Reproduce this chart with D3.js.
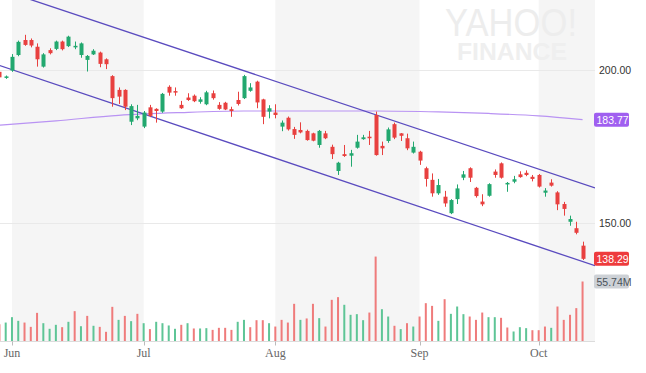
<!DOCTYPE html>
<html>
<head>
<meta charset="utf-8">
<script src="https://cdn.jsdelivr.net/npm/d3@7"></script>
<style>
  body { margin: 0; background: #fff; }
  svg { display: block; }
</style>
</head>
<body>
<svg id="chart" width="646" height="373"></svg>
<script>
// --- Data
const dates = [
  "2018-05-30","2018-05-31",
  "2018-06-01","2018-06-04","2018-06-05","2018-06-06","2018-06-07","2018-06-08","2018-06-11","2018-06-12","2018-06-13","2018-06-14","2018-06-15",
  "2018-06-18","2018-06-19","2018-06-20","2018-06-21","2018-06-22","2018-06-25","2018-06-26","2018-06-27","2018-06-28","2018-06-29",
  "2018-07-02","2018-07-03","2018-07-05","2018-07-06","2018-07-09","2018-07-10","2018-07-11","2018-07-12","2018-07-13","2018-07-16","2018-07-17",
  "2018-07-18","2018-07-19","2018-07-20","2018-07-23","2018-07-24","2018-07-25","2018-07-26","2018-07-27","2018-07-30","2018-07-31",
  "2018-08-01","2018-08-02","2018-08-03","2018-08-06","2018-08-07","2018-08-08","2018-08-09","2018-08-10","2018-08-13","2018-08-14","2018-08-15",
  "2018-08-16","2018-08-17","2018-08-20","2018-08-21","2018-08-22","2018-08-23","2018-08-24","2018-08-27","2018-08-28","2018-08-29","2018-08-30","2018-08-31",
  "2018-09-04","2018-09-05","2018-09-06","2018-09-07","2018-09-10","2018-09-11","2018-09-12","2018-09-13","2018-09-14","2018-09-17","2018-09-18",
  "2018-09-19","2018-09-20","2018-09-21","2018-09-24","2018-09-25","2018-09-26","2018-09-27","2018-09-28",
  "2018-10-01","2018-10-02","2018-10-03","2018-10-04","2018-10-05","2018-10-08","2018-10-09","2018-10-10"
];

const open = [
  199.4,197.7,
  199.8,204.9,209.8,209.8,207.6,201.1,206.5,206.9,209.3,207.8,207.4,204.9,203.3,205.1,205.7,203.5,198.0,193.5,193.5,183.1,184.2,
  181.5,187.8,187.3,186.4,194.5,193.1,188.6,191.0,191.6,189.6,188.8,192.4,188.6,189.3,187.2,190.2,190.8,193.2,196.2,190.4,186.4,
  186.1,181.5,184.4,180.7,180.4,180.1,179.3,175.5,179.3,174.9,167.0,172.5,172.0,174.6,177.4,178.2,185.3,175.2,176.8,182.3,179.3,177.7,173.0,
  173.3,167.9,164.1,159.7,158.6,153.2,157.8,164.8,167.9,161.5,157.0,158.9,166.8,169.5,162.6,163.5,165.9,166.4,165.1,
  165.7,159.9,163.2,160.0,156.2,150.4,148.3,142.6
];
const high = [
  199.9,198.2,
  205.2,209.6,211.5,210.3,208.7,205.5,207.1,209.6,209.6,211.2,209.3,209.0,204.9,206.8,206.0,203.8,198.3,194.3,193.7,188.8,188.6,
  186.6,188.6,187.5,192.5,195.0,194.3,189.9,192.4,192.0,191.1,193.2,193.3,189.5,189.6,188.0,192.9,198.4,195.7,196.5,190.6,188.5,
  188.8,183.5,184.8,181.4,182.9,180.5,179.5,180.4,180.1,175.6,170.0,175.5,173.9,178.8,178.8,180.1,186.4,176.6,181.2,182.8,179.4,179.2,176.6,
  173.6,168.4,166.2,164.4,160.5,157.8,162.6,167.0,168.2,161.8,159.4,163.0,167.5,169.8,163.4,165.4,166.9,167.2,165.7,
  166.0,161.4,164.3,160.4,156.9,152.4,150.4,143.9
];
const low = [
  197.4,197.1,
  199.4,204.5,207.9,207.4,201.1,200.8,205.1,206.5,206.4,207.5,206.8,204.0,199.5,204.9,200.9,200.3,188.0,188.9,186.9,182.0,183.6,
  181.0,184.6,182.8,186.0,191.6,191.6,187.3,189.9,189.5,189.0,188.5,190.3,187.0,186.9,184.7,188.4,190.5,192.9,187.5,182.3,184.2,
  184.2,180.0,180.2,177.5,179.3,176.9,176.7,174.6,177.4,170.9,165.7,171.6,168.4,174.3,177.2,175.5,172.0,172.2,176.2,177.4,176.8,173.8,172.7,
  169.0,161.9,158.6,159.2,155.3,152.9,156.2,164.0,163.4,158.3,155.5,158.6,164.8,164.5,160.2,163.0,164.8,165.3,163.6,
  161.6,158.6,161.9,154.2,152.4,149.1,146.3,137.9
];
const close = [
  197.6,197.9,
  204.3,209.2,208.2,208.0,203.5,205.1,205.5,209.3,206.8,210.9,207.9,208.7,204.6,206.3,202.0,201.9,190.8,191.3,188.0,188.2,185.0,
  186.1,185.0,186.6,192.2,192.6,192.7,187.5,190.2,189.8,190.4,192.7,190.8,187.3,187.1,186.6,188.9,198.0,194.3,189.4,184.7,187.5,
  185.3,182.8,180.6,178.8,179.6,177.1,176.9,180.1,177.7,172.5,169.7,171.9,172.8,176.6,178.0,177.7,172.2,174.4,180.6,177.9,178.5,174.4,174.9,
  170.4,164.4,159.7,162.4,156.4,157.5,161.3,165.9,164.8,158.8,156.1,162.7,165.7,164.8,163.1,164.3,165.0,165.7,164.4,
  161.9,160.6,162.2,156.1,154.6,151.3,146.8,138.29
];
// volume, millions
const volume = [
  16.0,17.6,
  22.6,19.2,17.6,13.6,26.6,17.0,11.8,15.5,13.3,18.3,28.2,14.2,23.8,14.6,13.6,9.0,32.2,20.1,23.8,18.9,25.7,
  17.0,11.5,18.3,17.0,14.9,11.8,15.5,17.0,12.1,12.1,12.4,10.8,12.7,12.7,10.8,18.3,20.1,13.3,19.8,19.8,17.0,
  13.9,20.1,17.6,35.0,20.1,21.4,35.0,21.7,13.9,38.7,41.2,34.1,24.8,25.4,19.8,26.9,78.9,30.0,23.2,14.6,11.5,17.0,13.9,
  23.2,35.6,33.1,19.2,39.3,25.7,32.5,25.4,23.2,20.1,26.9,22.6,22.6,22.0,13.0,9.3,13.3,12.4,10.5,
  10.5,13.9,12.7,32.5,20.1,24.8,31.0,55.74
];

// 200-day moving average, sampled
const maDates  = ["2018-05-30","2018-06-12","2018-06-26","2018-07-11","2018-07-25","2018-08-08","2018-08-23","2018-09-07","2018-09-19","2018-10-01","2018-10-10"];
const maValues = [182.0, 183.4, 185.2, 186.1, 186.6, 186.6, 186.6, 186.3, 185.8, 185.0, 183.77];

// trend channel anchors [date, price]
const upperTrend = [["2018-06-06", 223.0], ["2018-10-10", 162.8]];
const lowerTrend = [["2018-05-30", 201.5], ["2018-10-10", 137.4]];

const monthTicks  = ["2018-06-01","2018-07-02","2018-08-01","2018-09-04","2018-10-01"];
const monthLabels = ["Jun","Jul","Aug","Sep","Oct"];
const priceTicks  = [150, 200];

const lastClose = 138.29;
const lastMa = 183.77;
const lastVolume = 55.74;

// --- Setup
const svg = d3.select("#chart");
const plotRight = 595;
const baseY = 341.5;

const x = d3.scaleBand().domain(dates).range([-3.7, 585.7]);
const cx = d => x(d) + x.bandwidth() / 2;
const y = d3.scaleLinear().domain([150, 200]).range([223, 70]);
const yVol = d3.scaleLinear().domain([0, lastVolume]).range([baseY, baseY - 60]);

const upColor = "#22a86f", downColor = "#e8403f";
const upVol = "#5ec596", downVol = "#ef7b7b";

const rows = dates.map((d, i) => ({
  date: d, o: open[i], h: high[i], l: low[i], c: close[i], v: volume[i],
  prev: i ? close[i - 1] : open[i]
}));

svg.append("rect").attr("width", 646).attr("height", 373).attr("fill", "#fff");

svg.append("clipPath").attr("id", "plot")
  .append("rect").attr("x", 0).attr("y", 0).attr("width", plotRight).attr("height", baseY);

const plot = svg.append("g").attr("clip-path", "url(#plot)");

// --- Month shading (every other month)
const bandEdges = monthTicks.map(cx).concat([plotRight]);
plot.selectAll(".band")
  .data(monthTicks.filter((d, i) => i % 2 === 0))
  .enter()
  .append("rect")
  .attr("class", "band")
  .attr("x", d => cx(d))
  .attr("y", 0)
  .attr("width", d => bandEdges[monthTicks.indexOf(d) + 1] - cx(d))
  .attr("height", baseY)
  .attr("fill", "#f5f5f5");

// --- Watermark
svg.append("text")
  .attr("x", 445).attr("y", 36)
  .attr("textLength", 132)
  .attr("lengthAdjust", "spacingAndGlyphs")
  .style("font-family", "Liberation Sans, Arial, sans-serif")
  .style("font-size", "39px")
  .attr("fill", "#ededed")
  .text("YAHOO!");
svg.append("text")
  .attr("x", 457).attr("y", 60)
  .attr("textLength", 110)
  .attr("lengthAdjust", "spacingAndGlyphs")
  .style("font-family", "Liberation Sans, Arial, sans-serif")
  .style("font-size", "23px")
  .style("font-weight", "bold")
  .attr("fill", "#efefef")
  .text("FINANCE");

// --- Gridlines
plot.selectAll(".grid")
  .data(priceTicks)
  .enter()
  .append("line")
  .attr("x1", 0).attr("x2", plotRight)
  .attr("y1", d => Math.round(y(d)) + 0.5)
  .attr("y2", d => Math.round(y(d)) + 0.5)
  .attr("stroke", "#e9e9e9");

svg.append("line")
  .attr("x1", 0).attr("x2", plotRight)
  .attr("y1", baseY).attr("y2", baseY)
  .attr("stroke", "#dcdcdc");

// --- Volume bars
plot.selectAll(".vol")
  .data(rows)
  .enter()
  .append("rect")
  .attr("class", "vol")
  .attr("x", d => cx(d.date) - 1)
  .attr("width", 2)
  .attr("y", d => yVol(d.v))
  .attr("height", d => baseY - yVol(d.v))
  .attr("fill", d => d.c >= d.prev ? upVol : downVol);

// --- Moving average
const maLine = d3.line()
  .x((d, i) => cx(d))
  .y((d, i) => y(maValues[i]))
  .curve(d3.curveMonotoneX);
plot.append("path")
  .attr("d", maLine(maDates))
  .attr("fill", "none")
  .attr("stroke", "#b993f3")
  .attr("stroke-width", 1.2);

// --- Trend channel
function extend(pts) {
  const [x1, y1] = [cx(pts[0][0]), y(pts[0][1])];
  const [x2, y2] = [cx(pts[1][0]), y(pts[1][1])];
  const k = (y2 - y1) / (x2 - x1);
  return [[-5, y1 + (-5 - x1) * k], [plotRight, y1 + (plotRight - x1) * k]];
}
plot.selectAll(".trend")
  .data([upperTrend, lowerTrend])
  .enter()
  .append("path")
  .attr("d", d => d3.line()(extend(d)))
  .attr("fill", "none")
  .attr("stroke", "#5a4bbf")
  .attr("stroke-width", 1.3);

// --- Candles
const candles = plot.selectAll(".candle")
  .data(rows)
  .enter()
  .append("g")
  .attr("class", "candle");

candles.append("line")
  .attr("x1", d => Math.round(cx(d.date)) + 0.5)
  .attr("x2", d => Math.round(cx(d.date)) + 0.5)
  .attr("y1", d => y(d.h))
  .attr("y2", d => y(d.l))
  .attr("stroke", d => d.c >= d.o ? upColor : downColor);

candles.append("rect")
  .attr("x", d => Math.round(cx(d.date)) - 1.5)
  .attr("width", 4)
  .attr("y", d => y(Math.max(d.o, d.c)))
  .attr("height", d => Math.max(1.5, Math.abs(y(d.o) - y(d.c))))
  .attr("fill", d => d.c >= d.o ? upColor : downColor);

// --- X axis
svg.selectAll(".tick")
  .data(monthTicks)
  .enter()
  .append("line")
  .attr("x1", d => Math.round(cx(d)) + 0.5)
  .attr("x2", d => Math.round(cx(d)) + 0.5)
  .attr("y1", baseY).attr("y2", baseY + 4)
  .attr("stroke", "#bbb");

svg.selectAll(".month")
  .data(monthTicks)
  .enter()
  .append("text")
  .attr("x", d => cx(d))
  .attr("y", 357)
  .attr("text-anchor", "middle")
  .style("font-family", "Liberation Serif, Times New Roman, serif")
  .style("font-size", "12px")
  .attr("fill", "#666")
  .text((d, i) => monthLabels[i]);

// --- Right price labels
svg.selectAll(".plabel")
  .data(priceTicks)
  .enter()
  .append("text")
  .attr("x", 599)
  .attr("y", d => y(d) + 3.5)
  .style("font-family", "Liberation Sans, Arial, sans-serif")
  .style("font-size", "10.5px")
  .attr("fill", "#333")
  .text(d => d.toFixed(2));

// --- Badges
const badges = [
  { v: y(lastMa), text: lastMa.toFixed(2), fill: "#a05ff0", color: "#fff" },
  { v: y(lastClose), text: lastClose.toFixed(2), fill: "#ee3b3d", color: "#fff" },
  { v: yVol(lastVolume), text: lastVolume.toFixed(2) + "M", fill: "#cdd1d6", color: "#4a5159" }
];
const badge = svg.selectAll(".badge")
  .data(badges)
  .enter()
  .append("g");
badge.append("rect")
  .attr("x", 594)
  .attr("y", d => d.v - 7)
  .attr("width", d => d.text.length > 6 ? 37 : 35)
  .attr("height", 14)
  .attr("rx", 2)
  .attr("fill", d => d.fill);
badge.append("text")
  .attr("x", 596.5)
  .attr("y", d => d.v + 4)
  .style("font-family", "Liberation Sans, Arial, sans-serif")
  .style("font-size", "10.5px")
  .attr("fill", d => d.color)
  .text(d => d.text);
</script>
</body>
</html>
